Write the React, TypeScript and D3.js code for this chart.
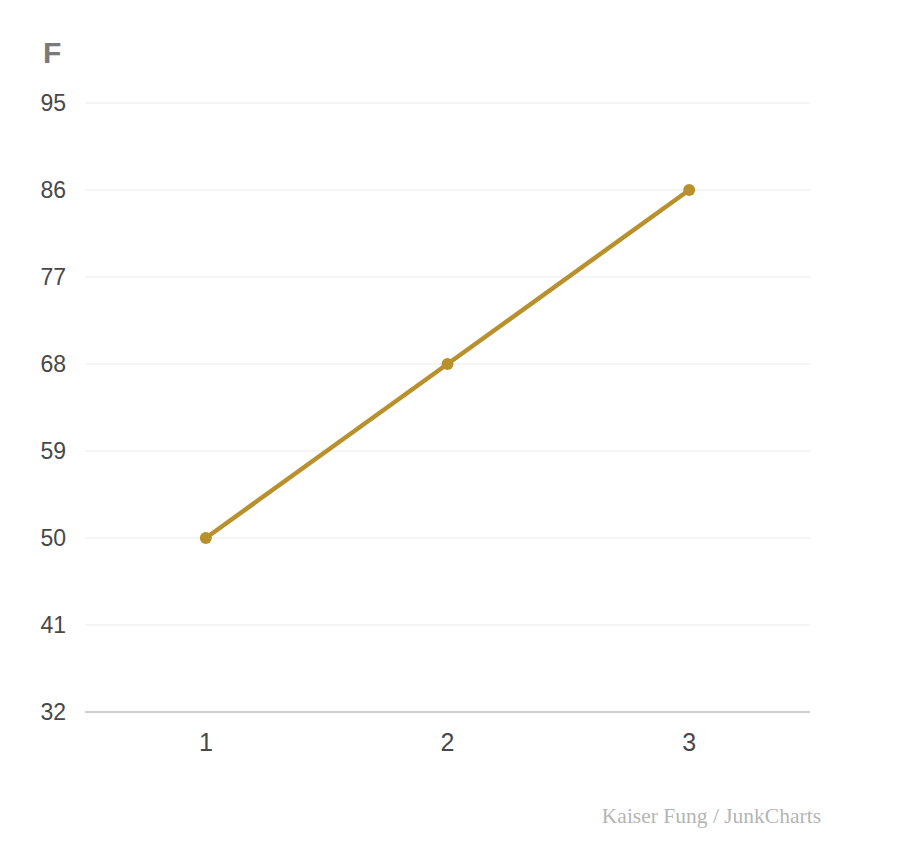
import { useRef, useEffect } from 'react';
import * as d3 from 'd3';

const VW = 898, VH = 868;
const M = { top: 103, right: 88, bottom: 156, left: 85 };
const IW = VW - M.left - M.right;
const IH = VH - M.top - M.bottom;

const CATEGORIES = ['1', '2', '3'];
const VALUES = [50, 68, 86];
const Y_TICKS = [32, 41, 50, 59, 68, 77, 86, 95];
const AXIS_TITLE = 'F';
const CREDIT = 'Kaiser Fung / JunkCharts';
const LINE_COLOR = '#b8912d';
const SANS = 'Helvetica, Arial, "Liberation Sans", sans-serif';

export default function App() {
  const svgRef = useRef<SVGSVGElement>(null);

  useEffect(() => {
    const svg = d3.select(svgRef.current);
    svg.selectAll('*').remove();

    const x = d3.scalePoint<string>().domain(CATEGORIES).range([M.left, M.left + IW]).padding(0.5);
    const y = d3.scaleLinear().domain([32, 95]).range([M.top + IH, M.top]);

    // Gridlines
    svg.append('g').selectAll('line').data(Y_TICKS.slice(1)).join('line')
      .attr('x1', M.left).attr('x2', M.left + IW)
      .attr('y1', d => y(d)).attr('y2', d => y(d))
      .attr('stroke', '#ebebeb').attr('stroke-width', 1);

    // Baseline
    svg.append('line')
      .attr('x1', M.left).attr('x2', M.left + IW)
      .attr('y1', y(32)).attr('y2', y(32))
      .attr('stroke', '#d0d0d0').attr('stroke-width', 2);

    // Y labels
    svg.append('g').selectAll('text').data(Y_TICKS).join('text')
      .attr('x', 66).attr('y', d => y(d)).attr('text-anchor', 'end')
      .attr('dominant-baseline', 'central')
      .attr('fill', '#484848').attr('font-size', 23).attr('font-family', SANS)
      .text(d => d);

    // X labels
    svg.append('g').selectAll('text').data(CATEGORIES).join('text')
      .attr('x', d => x(d) ?? 0).attr('y', M.top + IH + 30).attr('text-anchor', 'middle')
      .attr('dominant-baseline', 'central')
      .attr('fill', '#484848').attr('font-size', 25).attr('font-family', SANS)
      .text(d => d);

    // Axis title
    svg.append('text')
      .attr('x', 43).attr('y', 63)
      .attr('fill', '#7a7a7a').attr('font-size', 30).attr('font-weight', 'bold')
      .attr('font-family', SANS)
      .text(AXIS_TITLE);

    // Line + dots
    const line = d3.line<number>().x((_, i) => x(CATEGORIES[i]) ?? 0).y(v => y(v));
    svg.append('path').attr('d', line(VALUES) ?? '')
      .attr('fill', 'none').attr('stroke', LINE_COLOR).attr('stroke-width', 4.5)
      .attr('stroke-linecap', 'round');
    svg.append('g').selectAll('circle').data(VALUES).join('circle')
      .attr('cx', (_, i) => x(CATEGORIES[i]) ?? 0).attr('cy', d => y(d))
      .attr('r', 6).attr('fill', LINE_COLOR);

    // Credit
    svg.append('text')
      .attr('x', 821).attr('y', 823).attr('text-anchor', 'end')
      .attr('fill', '#b5b5b5').attr('font-size', 21.5)
      .attr('font-family', '"Palatino Linotype", Palatino, "Liberation Serif", serif')
      .text(CREDIT);
  }, []);

  return (
    <svg
      ref={svgRef}
      width={VW}
      height={VH}
      viewBox={`0 0 ${VW} ${VH}`}
      style={{ position: 'absolute', left: 0, top: 0, display: 'block', background: '#fff' }}
    />
  );
}
